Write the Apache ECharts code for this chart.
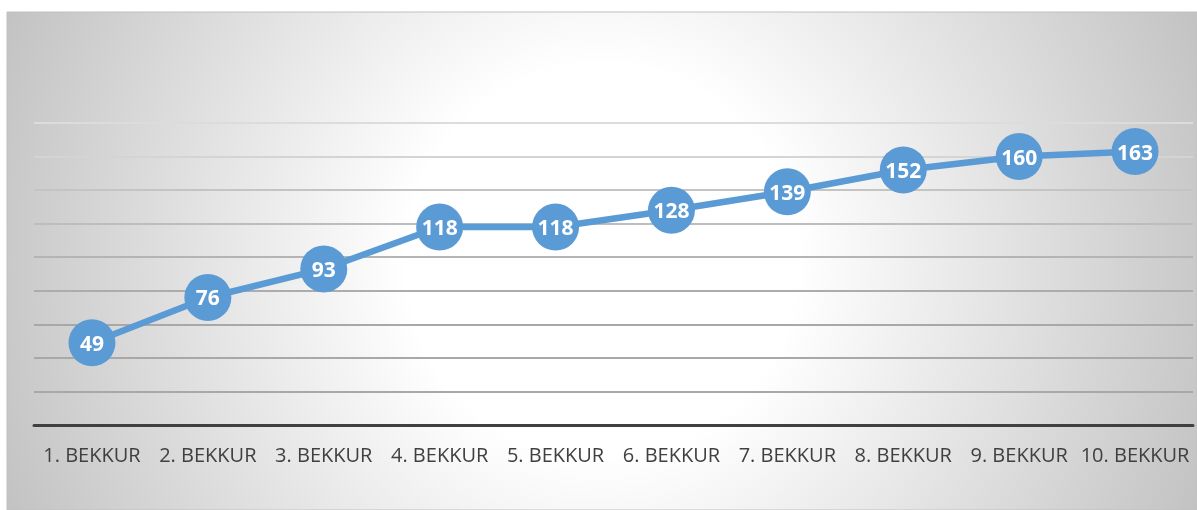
<!DOCTYPE html>
<html>
<head>
<meta charset="utf-8">
<script src="https://cdn.jsdelivr.net/npm/echarts@6/dist/echarts.min.js"></script>
<style>
html,body{margin:0;padding:0;background:#fff;}
#chart{width:1197px;height:510px;}
</style>
</head>
<body>
<div id="chart"></div>
<script>
const categories = ['1. BEKKUR','2. BEKKUR','3. BEKKUR','4. BEKKUR','5. BEKKUR','6. BEKKUR','7. BEKKUR','8. BEKKUR','9. BEKKUR','10. BEKKUR'];
const values = [49, 76, 93, 118, 118, 128, 139, 152, 160, 163];
const yMin = 0, yMax = 180, yInterval = 20;

const chart = echarts.init(document.getElementById('chart'), null, {renderer:'canvas'});
chart.setOption({
  backgroundColor: '#ffffff',
  animation: false,
  graphic: [{
    type: 'rect',
    z: -100,
    silent: true,
    shape: {x: 7, y: 12, width: 1190, height: 498},
    style: {
      fill: new echarts.graphic.RadialGradient(0.5, 0.5, 1.3, [
        {offset: 0, color: '#ffffff'},
        {offset: 0.3, color: '#ffffff'},
        {offset: 1, color: '#c2c2c2'}
      ]),
      stroke: '#c0c0c0',
      lineWidth: 1
    }
  }],
  grid: {left: 34, right: 4, top: 123, bottom: 85, containLabel: false},
  xAxis: {
    type: 'category',
    data: categories,
    boundaryGap: true,
    axisLine: {show: true, lineStyle: {color: '#404040', width: 3}},
    axisTick: {show: false},
    axisLabel: {color: '#404040', fontSize: 20, fontFamily: 'Open Sans', margin: 21, interval: 0}
  },
  yAxis: {
    type: 'value',
    min: yMin, max: yMax, interval: yInterval,
    axisLine: {show: false},
    axisTick: {show: false},
    axisLabel: {show: false},
    splitLine: {show: true, lineStyle: {
      color: ['#404040','#a8a8a8','#a8a8a8','#a8a8a8','#acacac','#b4b4b4','#bdbdbd','#c4c4c4','#d4d4d4','#dcdcdc'],
      width: 2
    }}
  },
  series: [{
    type: 'line',
    data: values,
    symbol: 'circle',
    symbolSize: 47,
    itemStyle: {color: '#5b9bd5'},
    lineStyle: {color: '#5b9bd5', width: 6.5},
    label: {
      show: true,
      position: 'inside',
      color: '#ffffff',
      fontSize: 21,
      fontWeight: 'bold',
      fontFamily: 'Open Sans',
      offset: [0, 2]
    }
  }]
});
</script>
</body>
</html>
